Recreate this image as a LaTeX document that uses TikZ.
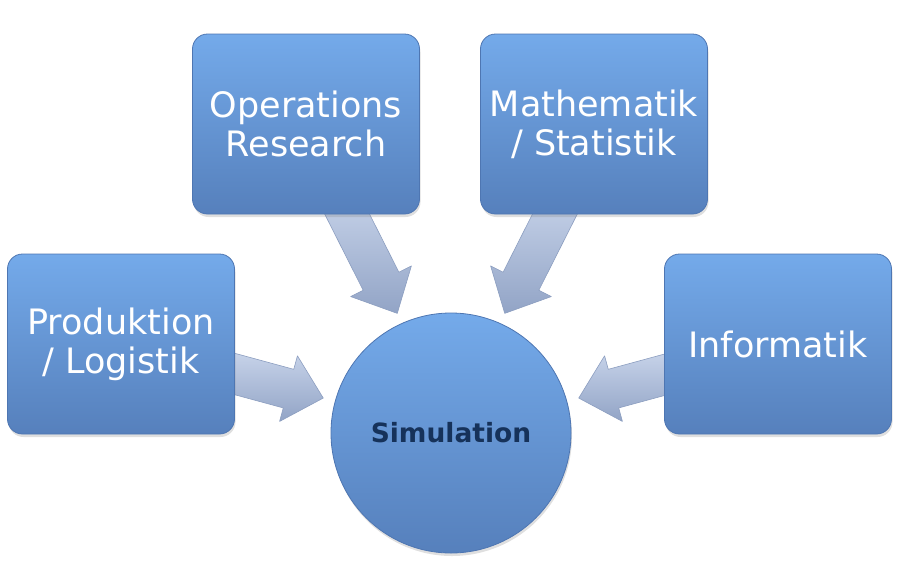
\documentclass[tikz,border=0pt]{standalone}
\usepackage{fontspec}
\setmainfont{DejaVu Sans}
\usetikzlibrary{shadows}
\definecolor{boxtop}{RGB}{116,170,234}
\definecolor{boxbot}{RGB}{86,128,188}
\definecolor{boxedge}{RGB}{78,118,178}
\definecolor{arrtop}{RGB}{200,212,234}
\definecolor{arrbot}{RGB}{146,164,198}
\definecolor{arredge}{RGB}{140,158,192}
\definecolor{simtext}{RGB}{22,50,90}
\newcommand\flowarrow[3]{%
  \begin{scope}[shift={(#1)}, rotate=#2]
    \path[arrowshape] (0,-20) -- ({#3-36},-20) -- ({#3-36},-34) -- (#3,0)
      -- ({#3-36},34) -- ({#3-36},20) -- (0,20) -- cycle;
  \end{scope}}
\begin{document}
\begin{tikzpicture}[x=1pt,y=-1pt,
  fieldbox/.style={rectangle, rounded corners=15pt, minimum width=227pt,
    minimum height=180pt, top color=boxtop, bottom color=boxbot,
    draw=boxedge, line width=0.8pt, text=white, align=center,
    font=\fontsize{35}{39}\selectfont,
    drop shadow={opacity=0.25, shadow xshift=1pt, shadow yshift=-3pt}},
  simcircle/.style={circle, minimum size=240pt, inner sep=0pt,
    top color=boxtop, bottom color=boxbot, draw=boxedge, line width=0.8pt,
    text=simtext, font=\fontsize{26.5}{30}\selectfont\bfseries,
    drop shadow={opacity=0.25, shadow xshift=1pt, shadow yshift=-3pt}},
  arrowshape/.style={top color=arrtop, bottom color=arrbot, draw=arredge,
    line width=0.6pt, line join=round}]
\useasboundingbox (0,0) rectangle (899,584);
% arrow anchor points
\coordinate (a1s) at (340,200);
\coordinate (a2s) at (562,200);
\coordinate (a3s) at (220,370);
\coordinate (a4s) at (682,370);
\flowarrow{a1s}{-63.2}{127}
\flowarrow{a2s}{-116.8}{127}
\flowarrow{a3s}{-15.2}{107}
\flowarrow{a4s}{-164.8}{107}
% nodes
\node[fieldbox] (or) at (306,124) {Operations\\Research};
\node[fieldbox] (ms) at (594,124) {Mathematik\\/ Statistik};
\node[fieldbox] (pl) at (121,344) {Produktion\\/ Logistik};
\node[fieldbox] (inf) at (778,344) {Informatik};
\node[simcircle] (sim) at (451,433) {Simulation};
\end{tikzpicture}
\end{document}
